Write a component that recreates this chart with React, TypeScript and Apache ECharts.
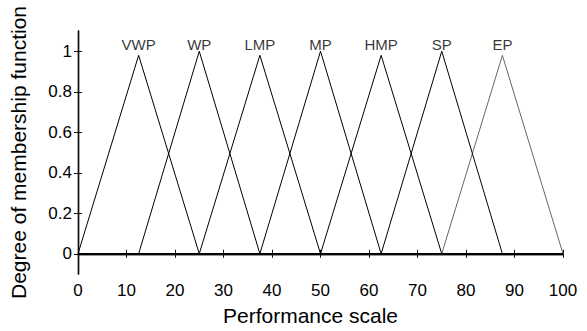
import React, { useEffect, useRef } from "react";
import * as echarts from "echarts";

const termNames = ["VWP", "WP", "LMP", "MP", "HMP", "SP", "EP"];
const peakX = [12.5, 25, 37.5, 50, 62.5, 75, 87.5];
const peakY = [0.98, 1, 0.98, 1, 0.98, 1, 0.98];
const halfWidth = 12.5;
const xTicks = [0, 10, 20, 30, 40, 50, 60, 70, 80, 90, 100];
const yTicks = [0, 0.2, 0.4, 0.6, 0.8, 1];
const lineColors = ["#000", "#000", "#000", "#000", "#000", "#000", "#666"];

const FONT = "'Liberation Sans', Arial, Helvetica, sans-serif";

function triangle(i: number): number[][] {
  const c = peakX[i];
  const a = c - halfWidth;
  const b = c + halfWidth;
  const pts: number[][] = [];
  if (a > xTicks[0]) pts.push([xTicks[0], 0]);
  pts.push([a, 0]);
  pts.push([c, peakY[i]]);
  pts.push([b, 0]);
  if (b < xTicks[xTicks.length - 1]) pts.push([xTicks[xTicks.length - 1], 0]);
  return pts;
}

export default function App() {
  const ref = useRef<HTMLDivElement>(null);
  useEffect(() => {
    if (!ref.current) return;
    const chart = echarts.init(ref.current, null, { renderer: "svg" });
    const axisLine = { show: true, lineStyle: { color: "#111", width: 1.4 } };
    const tick = { show: true, inside: true, length: 4, lineStyle: { color: "#111", width: 1 } };
    const lineSeries = termNames.map((n, i) => ({
      type: "line",
      name: n,
      data: triangle(i),
      showSymbol: false,
      symbol: "none",
      lineStyle: { color: lineColors[i], width: 1 },
      z: i === 6 ? 1 : 2,
    }));
    chart.setOption({
      animation: false,
      backgroundColor: "#fff",
      grid: { left: 77, right: 24, top: 31, bottom: 52 },
      xAxis: [
        {
          type: "value",
          min: 0,
          max: 100,
          interval: 10,
          position: "bottom",
          axisLine,
          axisTick: tick,
          splitLine: { show: false },
          axisLabel: { color: "#000", fontSize: 17, fontFamily: FONT, margin: 8 },
          name: "Performance scale",
          nameLocation: "middle",
          nameGap: 31,
          nameTextStyle: { color: "#000", fontSize: 21, fontFamily: FONT, padding: [0, 20, 0, 0] },
        },
        {
          type: "value",
          min: 0,
          max: 100,
          interval: 10,
          position: "top",
          axisLine,
          axisTick: tick,
          splitLine: { show: false },
          axisLabel: { show: false },
        },
      ],
      yAxis: [
        {
          type: "value",
          min: -0.1,
          max: 1.1,
          position: "left",
          axisLine,
          axisTick: { ...tick, customValues: yTicks },
          splitLine: { show: false },
          axisLabel: {
            customValues: yTicks,
            color: "#000",
            fontSize: 17,
            fontFamily: FONT,
            margin: 6,
            formatter: (v: number) => String(Math.round(v * 10) / 10),
          },
          name: "Degree of membership function",
          nameLocation: "middle",
          nameGap: 49,
          nameTextStyle: { color: "#000", fontSize: 21, fontFamily: FONT },
        },
        {
          type: "value",
          min: -0.1,
          max: 1.1,
          position: "right",
          axisLine,
          axisTick: { ...tick, customValues: yTicks },
          splitLine: { show: false },
          axisLabel: { show: false },
        },
      ],
      series: [
        ...lineSeries,
        {
          type: "scatter",
          symbolSize: 0,
          silent: true,
          data: termNames.map((n, i) => ({ name: n, value: [peakX[i], 1.035] })),
          label: {
            show: true,
            position: "inside",
            formatter: (p: any) => p.name,
            color: "#000",
            fontSize: 15,
            fontFamily: FONT,
          },
          z: 5,
        },
      ],
    });
    return () => chart.dispose();
  }, []);
  return (
    <div
      ref={ref}
      style={{ position: "fixed", left: 0, top: 0, width: 587, height: 331, background: "#fff" }}
    />
  );
}
